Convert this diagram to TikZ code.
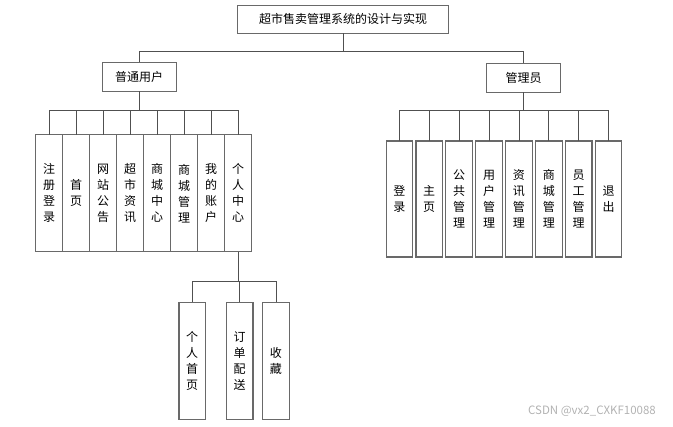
\documentclass[tikz,border=0pt]{standalone}
\usepackage{fontspec}
\usepackage{xcolor}
\usepackage{tikz}
\usetikzlibrary{positioning}
\newfontfamily\cjk{Noto Sans CJK SC}
\definecolor{lineGray}{RGB}{80,80,80}
\definecolor{boxGray}{RGB}{105,105,105}

\begin{document}
\begin{tikzpicture}[
        x=1pt, y=-1pt,
        box/.style={draw=boxGray, line width=1.1pt, fill=white, outer sep=0pt,
                    inner sep=0pt, font=\cjk\fontsize{12}{16}\selectfont},
        hbox/.style={box, minimum height=29pt},
        vbox/.style={box, align=center, minimum width=27pt, minimum height=117pt},
        mbox/.style={vbox, minimum width=26.5pt, minimum height=116pt},
        link/.style={draw=lineGray, line width=0.8pt},
        node distance=0pt
    ]
        \useasboundingbox (0,0) rectangle (673,427);
        \coordinate (topbus) at (0,51);
        \coordinate (ubus) at (0,110);
        \coordinate (abus) at (0,110);
        \coordinate (pbus) at (0,281);

        \node[hbox, minimum width=211pt, minimum height=28pt] (title) at (343,19.3) {超市售卖管理系统的设计与实现};
        \node[hbox, minimum width=74pt] (user) at (139.2,77) {普通用户};
        \node[hbox, minimum width=74pt] (admin) at (523.5,77.8) {管理员};

        % 普通用户
        \node[vbox] (u1) at (49.2,193.3) {注\\册\\登\\录};
        \node[vbox, right=of u1] (u2) {首\\页};
        \node[vbox, right=of u2] (u3) {网\\站\\公\\告};
        \node[vbox, right=of u3] (u4) {超\\市\\资\\讯};
        \node[vbox, right=of u4] (u5) {商\\城\\中\\心};
        \node[vbox, right=of u5] (u6) {商\\城\\管\\理};
        \node[vbox, right=of u6] (u7) {我\\的\\账\\户};
        \node[vbox, right=of u7] (u8) {个\\人\\中\\心};

        % 个人中心
        \node[mbox, minimum height=117pt] (p1) at (192.2,360.8) {个\\人\\首\\页};
        \node[mbox, minimum height=117pt, right=21pt of p1] (p2) {订\\单\\配\\送};
        \node[mbox, minimum height=117pt, right=9.7pt of p2] (p3) {收\\藏};

        % 管理员
        \node[mbox] (a1) at (399.3,199) {登\\录};
        \node[mbox, right=3.4pt of a1] (a2) {主\\页};
        \node[mbox, right=3.4pt of a2] (a3) {公\\共\\管\\理};
        \node[mbox, right=3.4pt of a3] (a4) {用\\户\\管\\理};
        \node[mbox, right=3.4pt of a4] (a5) {资\\讯\\管\\理};
        \node[mbox, right=3.4pt of a5] (a6) {商\\城\\管\\理};
        \node[mbox, right=3.4pt of a6] (a7) {员\\工\\管\\理};
        \node[mbox, right=3.4pt of a7] (a8) {退\\出};

        \node[font=\cjk\fontsize{11.5}{13}\selectfont, text=black!30] (mark) at (592,411) {CSDN @vx2\_CXKF10088};

        \draw[link] (title.south) -- (title.south |- topbus) -| (user.north);
        \draw[link] (title.south) -- (title.south |- topbus) -| (admin.north);

        \draw[link] (user.south) -- (user.south |- ubus) -| (u1.north);
        \draw[link] (user.south) -- (user.south |- ubus) -| (u2.north);
        \draw[link] (user.south) -- (user.south |- ubus) -| (u3.north);
        \draw[link] (user.south) -- (user.south |- ubus) -| (u4.north);
        \draw[link] (user.south) -- (user.south |- ubus) -| (u5.north);
        \draw[link] (user.south) -- (user.south |- ubus) -| (u6.north);
        \draw[link] (user.south) -- (user.south |- ubus) -| (u7.north);
        \draw[link] (user.south) -- (user.south |- ubus) -| (u8.north);

        \draw[link] (u8.south) -- (u8.south |- pbus) -| (p1.north);
        \draw[link] (u8.south) -- (u8.south |- pbus) -| (p2.north);
        \draw[link] (u8.south) -- (u8.south |- pbus) -| (p3.north);

        \draw[link] (admin.south) -- (admin.south |- abus) -| (a1.north);
        \draw[link] (admin.south) -- (admin.south |- abus) -| (a2.north);
        \draw[link] (admin.south) -- (admin.south |- abus) -| (a3.north);
        \draw[link] (admin.south) -- (admin.south |- abus) -| (a4.north);
        \draw[link] (admin.south) -- (admin.south |- abus) -| (a5.north);
        \draw[link] (admin.south) -- (admin.south |- abus) -| (a6.north);
        \draw[link] (admin.south) -- (admin.south |- abus) -| (a7.north);
        \draw[link] (admin.south) -- (admin.south |- abus) -| (a8.north);
    \end{tikzpicture}
\end{document}
